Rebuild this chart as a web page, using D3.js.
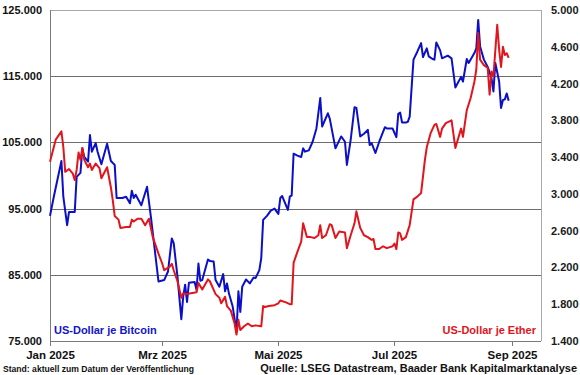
<!DOCTYPE html>
<html lang="de">
<head>
<meta charset="UTF-8">
<title>Bitcoin und Ether in US-Dollar</title>
<script src="https://d3js.org/d3.v7.min.js"></script>
<style>
  body { margin: 0; background: #fff; }
  svg text { font-family: "Liberation Sans", Arial, sans-serif; font-weight: bold; fill: #111; }
</style>
</head>
<body>
<svg id="chart" width="580" height="375"></svg>
<script>
// US-Dollar je Bitcoin (linke Achse)
const btcDates = [
  "2025-01-01","2025-01-03","2025-01-07","2025-01-08","2025-01-10","2025-01-11","2025-01-14","2025-01-15",
  "2025-01-17","2025-01-18","2025-01-19","2025-01-21","2025-01-22","2025-01-23","2025-01-25","2025-01-26",
  "2025-01-28","2025-01-31","2025-02-02","2025-02-04","2025-02-05","2025-02-08","2025-02-10","2025-02-12",
  "2025-02-13","2025-02-14","2025-02-15","2025-02-18","2025-02-21","2025-02-23","2025-02-27","2025-03-02",
  "2025-03-04","2025-03-06","2025-03-07","2025-03-09","2025-03-11","2025-03-12","2025-03-13","2025-03-14",
  "2025-03-15","2025-03-18","2025-03-19","2025-03-20","2025-03-21","2025-03-22","2025-03-25","2025-03-26",
  "2025-03-28","2025-03-29","2025-03-31","2025-04-02","2025-04-03","2025-04-04","2025-04-05","2025-04-07",
  "2025-04-09","2025-04-10","2025-04-11","2025-04-12","2025-04-14","2025-04-16","2025-04-18","2025-04-19",
  "2025-04-21","2025-04-22","2025-04-23","2025-04-25","2025-04-27","2025-04-29","2025-05-01","2025-05-02",
  "2025-05-03","2025-05-06","2025-05-07","2025-05-08","2025-05-09","2025-05-11","2025-05-13","2025-05-14",
  "2025-05-15","2025-05-17","2025-05-19","2025-05-21","2025-05-23","2025-05-24","2025-05-27","2025-05-28",
  "2025-05-31","2025-06-03","2025-06-05","2025-06-06","2025-06-08","2025-06-10","2025-06-11","2025-06-13",
  "2025-06-15","2025-06-17","2025-06-18","2025-06-19","2025-06-21","2025-06-23","2025-06-26","2025-06-27",
  "2025-06-30","2025-07-02","2025-07-03","2025-07-04","2025-07-05","2025-07-07","2025-07-08","2025-07-09",
  "2025-07-11","2025-07-13","2025-07-15","2025-07-16","2025-07-18","2025-07-19","2025-07-21","2025-07-22",
  "2025-07-23","2025-07-25","2025-07-26","2025-07-29","2025-07-31","2025-08-02","2025-08-05","2025-08-06",
  "2025-08-08","2025-08-09","2025-08-12","2025-08-13","2025-08-14","2025-08-15","2025-08-17","2025-08-19",
  "2025-08-21","2025-08-22","2025-08-23","2025-08-25","2025-08-26","2025-08-27","2025-08-28","2025-08-29",
  "2025-08-30"
];
const btcValues = [
  93900, 96800, 102200, 96800, 92500, 94500, 94500, 99800,
  100400, 104100, 102800, 102100, 106100, 103600, 104900, 103600,
  101700, 104800, 102200, 101600, 96600, 96600, 96800, 95800,
  97700, 96600, 97100, 95500, 98300, 93800, 84000, 84200,
  85500, 90500, 89800, 84700, 78300, 81700, 83500, 80900,
  83800, 83900, 82700, 86700, 84100, 84200, 87300, 87100,
  87000, 84200, 83200, 85100, 82500, 83700, 82200, 80200,
  76400, 82500, 79400, 83200, 84300, 83700, 84600, 84500,
  85700, 87500, 93300, 93900, 94700, 95000, 94200, 96600,
  96900, 94800, 96800, 97000, 103300, 103000, 102800, 104100,
  103600, 103800, 105100, 107100, 111700, 107400, 109400, 108600,
  104100, 105900, 105100, 101600, 105400, 110300, 110200, 105900,
  106300, 106900, 104600, 104900, 103400, 105100, 107300, 107100,
  107100, 105800, 109300, 109500, 108000, 108000, 108100, 108900,
  117500, 118700, 120000, 117900, 119200, 118000, 117600, 117500,
  120100, 118900, 117700, 118100, 117700, 113300, 114900, 114200,
  117600, 117000, 118500, 119200, 123500, 119500, 117500, 116400,
  114700, 112700, 117000, 114200, 110200, 111400, 111500, 112400,
  111300
];

// US-Dollar je Ether (rechte Achse)
const ethDates = [
  "2025-01-01","2025-01-04","2025-01-07","2025-01-08","2025-01-09","2025-01-11","2025-01-13","2025-01-14",
  "2025-01-15","2025-01-16","2025-01-17","2025-01-18","2025-01-19","2025-01-21","2025-01-22","2025-01-23",
  "2025-01-25","2025-01-27","2025-01-28","2025-01-31","2025-02-02","2025-02-03","2025-02-04","2025-02-06",
  "2025-02-07","2025-02-10","2025-02-12","2025-02-13","2025-02-14","2025-02-16","2025-02-18","2025-02-20",
  "2025-02-22","2025-02-24","2025-02-27","2025-03-01","2025-03-02","2025-03-05","2025-03-06","2025-03-07",
  "2025-03-09","2025-03-11","2025-03-12","2025-03-14","2025-03-16","2025-03-19","2025-03-20","2025-03-22",
  "2025-03-25","2025-03-26","2025-03-29","2025-03-31","2025-04-01","2025-04-03","2025-04-04","2025-04-06",
  "2025-04-08","2025-04-09","2025-04-10","2025-04-11","2025-04-13","2025-04-15","2025-04-17","2025-04-19",
  "2025-04-22","2025-04-23","2025-04-24","2025-04-26","2025-04-29","2025-05-01","2025-05-02","2025-05-05",
  "2025-05-07","2025-05-08","2025-05-09","2025-05-11","2025-05-13","2025-05-14","2025-05-16","2025-05-18",
  "2025-05-20","2025-05-22","2025-05-23","2025-05-24","2025-05-26","2025-05-28","2025-05-29","2025-05-31",
  "2025-06-02","2025-06-05","2025-06-06","2025-06-08","2025-06-10","2025-06-11","2025-06-13","2025-06-15",
  "2025-06-17","2025-06-19","2025-06-20","2025-06-21","2025-06-23","2025-06-25","2025-06-27","2025-06-30",
  "2025-07-01","2025-07-02","2025-07-03","2025-07-04","2025-07-05","2025-07-07","2025-07-09","2025-07-11",
  "2025-07-13","2025-07-15","2025-07-17","2025-07-18","2025-07-20","2025-07-22","2025-07-23","2025-07-25",
  "2025-07-26","2025-07-28","2025-07-31","2025-08-02","2025-08-05","2025-08-06","2025-08-08","2025-08-10",
  "2025-08-12","2025-08-13","2025-08-14","2025-08-15","2025-08-17","2025-08-19","2025-08-20","2025-08-21",
  "2025-08-22","2025-08-24","2025-08-25","2025-08-26","2025-08-27","2025-08-28","2025-08-29","2025-08-30"
];
const ethValues = [
  3350, 3590, 3680, 3510, 3240, 3270, 3220, 3150,
  3260, 3450, 3370, 3500, 3370, 3290, 3330, 3260,
  3330, 3280, 3170, 3290, 3070, 2930, 2760, 2720,
  2630, 2640, 2640, 2720, 2700, 2730, 2730, 2660,
  2730, 2530, 2350, 2240, 2170, 2210, 2240, 2170,
  2050, 1870, 1920, 1910, 1920, 1930, 2030, 1960,
  2070, 2050, 1910, 1870, 1810, 1880, 1780, 1730,
  1590, 1470, 1630, 1520, 1560, 1590, 1560, 1570,
  1560, 1780, 1770, 1780, 1790, 1810, 1840, 1820,
  1800, 1800, 2250, 2370, 2480, 2680, 2530, 2530,
  2520, 2550, 2660, 2520, 2550, 2670, 2660, 2520,
  2590, 2580, 2410, 2550, 2680, 2810, 2630, 2550,
  2530, 2500, 2510, 2400, 2400, 2430, 2410, 2430,
  2460, 2400, 2580, 2570, 2500, 2530, 2660, 2940,
  2970, 3010, 3370, 3510, 3660, 3750, 3760, 3620,
  3710, 3770, 3800, 3500, 3710, 3620, 3910, 4040,
  4220, 4350, 4750, 4460, 4400, 4370, 4080, 4330,
  4280, 4840, 4570, 4380, 4600, 4510, 4530, 4480
];

const leftTicks = [75000, 85000, 95000, 105000, 115000, 125000];
const rightTicks = [1400, 1800, 2200, 2600, 3000, 3400, 3800, 4200, 4600, 5000];
const monthTicks = ["2025-01-01", "2025-03-01", "2025-05-01", "2025-07-01", "2025-09-01"];
const monthLabels = ["Jan 2025", "Mrz 2025", "Mai 2025", "Jul 2025", "Sep 2025"];

const parse = d3.timeParse("%Y-%m-%d");
const de = d3.formatLocale({ decimal: ",", thousands: ".", grouping: [3], currency: ["", " €"] });
const fmt = de.format(",.0f");

const svg = d3.select("#chart");
const plotL = 50, plotR = 541, plotT = 10, plotB = 341;

const x = d3.scaleTime()
  .domain([parse("2025-01-01"), parse("2025-09-16")])
  .range([plotL, plotR]);
const yL = d3.scaleLinear().domain([75000, 125000]).range([plotB, plotT]);
const yR = d3.scaleLinear().domain([1400, 5000]).range([plotB, plotT]);

// gridlines at the inner left ticks
svg.append("g")
  .selectAll("line")
  .data(leftTicks.slice(1, -1))
  .join("line")
  .attr("x1", plotL).attr("x2", plotR)
  .attr("y1", d => Math.round(yL(d)) + 0.5).attr("y2", d => Math.round(yL(d)) + 0.5)
  .attr("stroke", "#6e6e6e").attr("stroke-width", 1);

// frame
svg.append("line").attr("x1", plotL).attr("x2", plotR).attr("y1", plotT + 0.5).attr("y2", plotT + 0.5)
  .attr("stroke", "#a8a8a8");
svg.append("line").attr("x1", plotR + 0.5).attr("x2", plotR + 0.5).attr("y1", plotT).attr("y2", plotB)
  .attr("stroke", "#a8a8a8");
svg.append("line").attr("x1", plotL + 0.5).attr("x2", plotL + 0.5).attr("y1", plotT).attr("y2", plotB)
  .attr("stroke", "#7a7a7a");
svg.append("line").attr("x1", plotL).attr("x2", plotR).attr("y1", plotB + 0.5).attr("y2", plotB + 0.5)
  .attr("stroke", "#7a7a7a");

// x ticks
const xt = svg.append("g");
monthTicks.forEach((m, i) => {
  const px = Math.round(x(parse(m))) + 0.5;
  xt.append("line").attr("x1", px).attr("x2", px).attr("y1", plotB).attr("y2", plotB + 5)
    .attr("stroke", "#7a7a7a");
  xt.append("text").attr("x", px).attr("y", 359).attr("text-anchor", "middle")
    .attr("font-size", "11.5px").text(monthLabels[i]);
});

// left axis labels
svg.append("g").selectAll("text").data(leftTicks).join("text")
  .attr("x", 42).attr("y", d => yL(d) + 4).attr("text-anchor", "end")
  .attr("font-size", "11px").text(d => fmt(d));

// right axis labels
svg.append("g").selectAll("text").data(rightTicks).join("text")
  .attr("x", 551).attr("y", d => yR(d) + 4).attr("text-anchor", "start")
  .attr("font-size", "11px").style("fill", "#1a1a1a").text(d => fmt(d));

// series
const btc = btcDates.map((d, i) => ({ date: parse(d), value: btcValues[i] }));
const eth = ethDates.map((d, i) => ({ date: parse(d), value: ethValues[i] }));

svg.append("path").datum(btc)
  .attr("fill", "none").attr("stroke", "#0b10c8").attr("stroke-width", 2)
  .attr("stroke-linejoin", "round")
  .attr("d", d3.line().x(d => x(d.date)).y(d => yL(d.value)));

svg.append("path").datum(eth)
  .attr("fill", "none").attr("stroke", "#e2141c").attr("stroke-width", 2)
  .attr("stroke-linejoin", "round")
  .attr("d", d3.line().x(d => x(d.date)).y(d => yR(d.value)));

// series labels
svg.append("text").attr("x", 54).attr("y", 334).attr("font-size", "11px")
  .style("fill", "#1414c8").text("US-Dollar je Bitcoin");
svg.append("text").attr("x", 536).attr("y", 334).attr("font-size", "11px").attr("text-anchor", "end")
  .style("fill", "#e2141c").text("US-Dollar je Ether");

// footer
svg.append("text").attr("x", 3).attr("y", 372).attr("font-size", "8.6px")
  .text("Stand: aktuell zum Datum der Veröffentlichung");
svg.append("text").attr("x", 577).attr("y", 372).attr("font-size", "11px").attr("text-anchor", "end")
  .text("Quelle: LSEG Datastream, Baader Bank Kapitalmarktanalyse");
</script>
</body>
</html>
